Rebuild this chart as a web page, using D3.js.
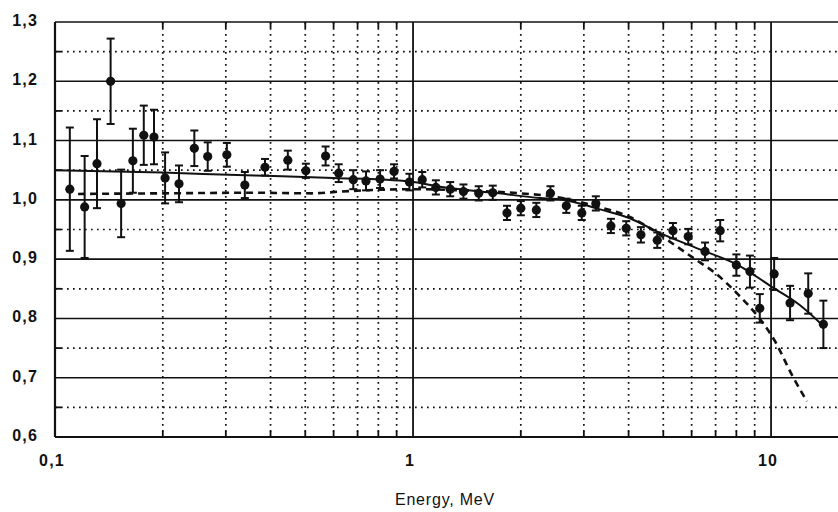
<!DOCTYPE html>
<html>
<head>
<meta charset="utf-8">
<script src="https://cdn.jsdelivr.net/npm/d3@7"></script>
<style>
  body { margin: 0; background: #fff; }
  text { font-family: "Liberation Sans", Arial, sans-serif; fill: #111; }
</style>
</head>
<body>
<div id="chart"></div>
<script>
var svgWidth = 838;
var svgHeight = 512;

// measured points: energy (MeV), ratio, error half-width
var energy = [0.110, 0.121, 0.131, 0.143, 0.153, 0.165, 0.177, 0.189, 0.203, 0.222,
              0.245, 0.267, 0.302, 0.339, 0.386, 0.447, 0.502, 0.570, 0.620, 0.681,
              0.739, 0.809, 0.885, 0.977, 1.061, 1.158, 1.27, 1.383, 1.526, 1.67,
              1.83, 2.0, 2.21, 2.42, 2.68, 2.96, 3.24, 3.57, 3.94, 4.33,
              4.81, 5.32, 5.87, 6.54, 7.21, 8.0, 8.73, 9.3, 10.2, 11.3,
              12.7, 14.0];
var ratio = [1.018, 0.988, 1.061, 1.200, 0.994, 1.066, 1.109, 1.106, 1.037, 1.027,
             1.087, 1.073, 1.076, 1.025, 1.055, 1.067, 1.049, 1.074, 1.045, 1.034,
             1.032, 1.035, 1.048, 1.030, 1.034, 1.021, 1.018, 1.014, 1.011, 1.012,
             0.978, 0.986, 0.983, 1.011, 0.990, 0.978, 0.994, 0.956, 0.952, 0.941,
             0.932, 0.948, 0.938, 0.913, 0.948, 0.890, 0.879, 0.817, 0.875, 0.826,
             0.842, 0.790];
var errs = [0.104, 0.086, 0.075, 0.072, 0.057, 0.054, 0.050, 0.046, 0.043, 0.031,
            0.030, 0.024, 0.020, 0.022, 0.014, 0.016, 0.012, 0.016, 0.015, 0.016,
            0.016, 0.015, 0.012, 0.014, 0.013, 0.012, 0.012, 0.012, 0.012, 0.012,
            0.012, 0.012, 0.012, 0.012, 0.012, 0.012, 0.012, 0.012, 0.012, 0.013,
            0.013, 0.013, 0.013, 0.015, 0.018, 0.018, 0.027, 0.024, 0.027, 0.029,
            0.034, 0.040];

// solid curve
var fitE = [0.1, 0.2, 0.36, 0.43, 0.6, 0.98, 1.19, 1.74, 2.26, 2.57, 3.33, 4.03, 4.9, 6.3, 8.2, 10, 12, 13.9];
var fitV = [1.050, 1.046, 1.041, 1.040, 1.037, 1.031, 1.022, 1.011, 1.003, 1.001, 0.984, 0.969, 0.944, 0.917, 0.888, 0.854, 0.823, 0.789];

// dashed curve
var dashE = [0.116, 0.2, 0.36, 0.52, 0.63, 0.81, 1.0, 1.5, 2.0, 2.5, 3.3, 4.0, 4.6, 5.2, 6.1, 7.0, 8.1, 9.2, 10.2, 11.5, 12.6];
var dashV = [1.010, 1.011, 1.012, 1.011, 1.014, 1.017, 1.018, 1.015, 1.011, 1.005, 0.988, 0.972, 0.952, 0.930, 0.901, 0.876, 0.840, 0.803, 0.764, 0.702, 0.660];

var xTickLabels = ["0,1", "1", "10"];
var yTickLabels = ["0,6", "0,7", "0,8", "0,9", "1,0", "1,1", "1,2", "1,3"];
var xTitle = "Energy, MeV";

var svg = d3.select("#chart").append("svg")
    .attr("width", svgWidth)
    .attr("height", svgHeight);

var x = d3.scaleLog().domain([0.1, 15.38]).range([55, 838]);
var y = d3.scaleLinear().domain([0.6, 1.3]).range([437, 22]);

var ink = "#111";
var grid = svg.append("g");

// horizontal grid
var yMajor = d3.range(0, 8).map(i => +(0.6 + i * 0.1).toFixed(2));
var yMinor = d3.range(0, 7).map(i => +(0.65 + i * 0.1).toFixed(2));
grid.selectAll(".hmin").data(yMinor).enter().append("line")
    .attr("x1", x(0.1)).attr("x2", svgWidth)
    .attr("y1", d => y(d)).attr("y2", d => y(d))
    .attr("stroke", ink).attr("stroke-width", 1.7)
    .attr("stroke-dasharray", "1.7,4.3");
grid.selectAll(".hmaj").data(yMajor).enter().append("line")
    .attr("x1", x(0.1)).attr("x2", svgWidth)
    .attr("y1", d => y(d)).attr("y2", d => y(d))
    .attr("stroke", ink).attr("stroke-width", d => d === 0.6 ? 2.2 : 1.6);

// vertical grid
var xMinor = [];
[0.1, 1].forEach(b => { for (var k = 2; k <= 9; k++) xMinor.push(b * k); });
var xMajor = [0.1, 1, 10];
grid.selectAll(".vmin").data(xMinor).enter().append("line")
    .attr("x1", d => x(d)).attr("x2", d => x(d))
    .attr("y1", y(1.3)).attr("y2", y(0.6))
    .attr("stroke", ink).attr("stroke-width", 1.7)
    .attr("stroke-dasharray", "1.7,4.3");
// short ticks at top and bottom of minor lines
grid.selectAll(".vtb").data(xMinor).enter().append("line")
    .attr("x1", d => x(d)).attr("x2", d => x(d))
    .attr("y1", y(0.6)).attr("y2", y(0.6) - 6)
    .attr("stroke", ink).attr("stroke-width", 1.8);
grid.selectAll(".vtt").data(xMinor).enter().append("line")
    .attr("x1", d => x(d)).attr("x2", d => x(d))
    .attr("y1", y(1.3)).attr("y2", y(1.3) + 6)
    .attr("stroke", ink).attr("stroke-width", 1.8);
grid.selectAll(".htl").data(yMinor).enter().append("line")
    .attr("x1", x(0.1)).attr("x2", x(0.1) + 6)
    .attr("y1", d => y(d)).attr("y2", d => y(d))
    .attr("stroke", ink).attr("stroke-width", 1.8);
grid.selectAll(".vmaj").data(xMajor).enter().append("line")
    .attr("x1", d => x(d)).attr("x2", d => x(d))
    .attr("y1", y(1.3)).attr("y2", y(0.6))
    .attr("stroke", ink).attr("stroke-width", d => d === 0.1 ? 2.2 : 1.8);

// tick labels
svg.selectAll(".ylab").data(yMajor).enter().append("text")
    .attr("x", 38).attr("y", d => y(d) + 4)
    .attr("text-anchor", "end")
    .attr("font-size", 16).attr("font-weight", "bold")
    .attr("letter-spacing", 1.2)
    .text((d, i) => yTickLabels[i]);
svg.selectAll(".xlab").data(xMajor).enter().append("text")
    .attr("x", d => x(d) - 3).attr("y", 466)
    .attr("text-anchor", "middle")
    .attr("font-size", 16).attr("font-weight", "bold")
    .attr("letter-spacing", 1.2)
    .text((d, i) => xTickLabels[i]);
svg.append("text")
    .attr("x", 445).attr("y", 505)
    .attr("text-anchor", "middle")
    .attr("font-size", 16)
    .attr("letter-spacing", 0.8)
    .text(xTitle);

// curves
var line = d3.line().x(d => x(d[0])).y(d => y(d[1])).curve(d3.curveMonotoneX);
svg.append("path")
    .datum(fitE.map((e, i) => [e, fitV[i]]))
    .attr("d", line)
    .attr("fill", "none").attr("stroke", ink).attr("stroke-width", 2);
svg.append("path")
    .datum(dashE.map((e, i) => [e, dashV[i]]))
    .attr("d", line)
    .attr("fill", "none").attr("stroke", ink).attr("stroke-width", 2.6)
    .attr("stroke-dasharray", "7,5");

// data points with error bars
var pts = energy.map((e, i) => ({ e: e, v: ratio[i], s: errs[i] }));
var pg = svg.append("g");
var cap = 4;
pg.selectAll(".eb").data(pts).enter().append("line")
    .attr("x1", d => x(d.e)).attr("x2", d => x(d.e))
    .attr("y1", d => y(d.v + d.s)).attr("y2", d => y(d.v - d.s))
    .attr("stroke", ink).attr("stroke-width", 2);
pg.selectAll(".ct").data(pts).enter().append("line")
    .attr("x1", d => x(d.e) - cap).attr("x2", d => x(d.e) + cap)
    .attr("y1", d => y(d.v + d.s)).attr("y2", d => y(d.v + d.s))
    .attr("stroke", ink).attr("stroke-width", 2);
pg.selectAll(".cb").data(pts).enter().append("line")
    .attr("x1", d => x(d.e) - cap).attr("x2", d => x(d.e) + cap)
    .attr("y1", d => y(d.v - d.s)).attr("y2", d => y(d.v - d.s))
    .attr("stroke", ink).attr("stroke-width", 2);
pg.selectAll("circle").data(pts).enter().append("circle")
    .attr("cx", d => x(d.e)).attr("cy", d => y(d.v))
    .attr("r", 4.6).attr("fill", ink);
</script>
</body>
</html>
